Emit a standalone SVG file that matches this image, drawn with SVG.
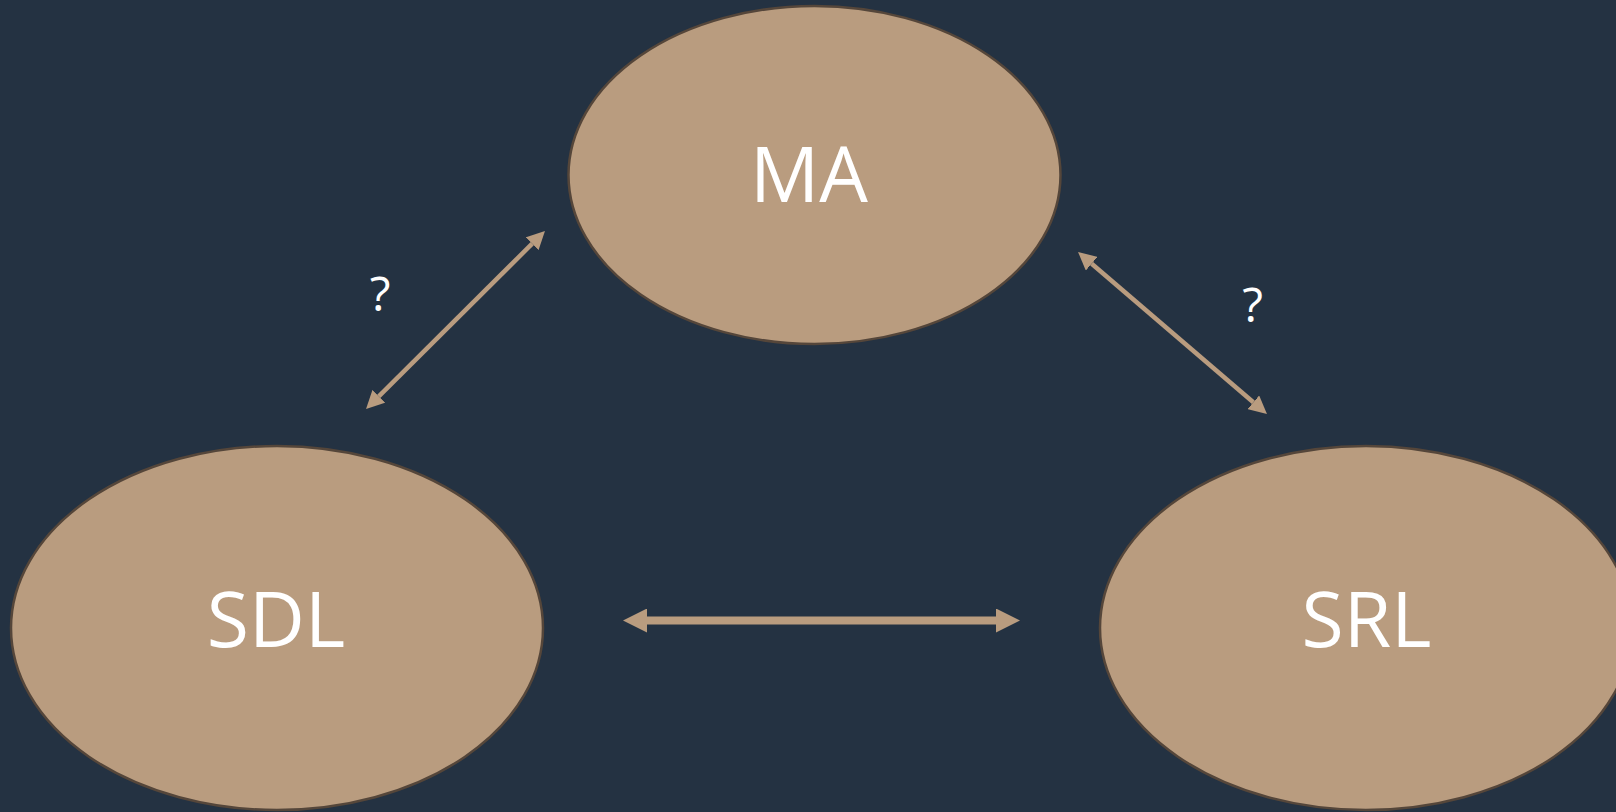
<svg xmlns="http://www.w3.org/2000/svg" width="1616" height="812" viewBox="0 0 1616 812">
<style>
.node{fill:#B99C7F;stroke:#55463a;stroke-width:2.5}
.lbl{font-family:"Open Sans","Noto Sans","Liberation Sans",sans-serif;fill:#ffffff;text-anchor:middle}
.big{font-size:77px}
.q{font-size:48px}
.conn{stroke:#B99C7F;fill:none}
</style>
<defs>
<marker id="hd" markerUnits="userSpaceOnUse" markerWidth="18" markerHeight="18" refX="0" refY="9" orient="auto-start-reverse">
<path d="M0,0 L18,9 L0,18 z" fill="#B99C7F"/>
</marker>
<marker id="hh" markerUnits="userSpaceOnUse" markerWidth="24" markerHeight="24" refX="0" refY="12" orient="auto-start-reverse">
<path d="M0,0 L24,12 L0,24 z" fill="#B99C7F"/>
</marker>
</defs>
<rect width="1616" height="812" fill="#243242"/>
<g id="connectors">
<line class="conn" x1="378.8" y1="396.3" x2="532.2" y2="243.7" stroke-width="4.5" marker-start="url(#hd)" marker-end="url(#hd)"/>
<line class="conn" x1="1091.7" y1="263.7" x2="1253.3" y2="402.3" stroke-width="4.5" marker-start="url(#hd)" marker-end="url(#hd)"/>
<line class="conn" x1="647" y1="620.5" x2="996" y2="620.5" stroke-width="8" marker-start="url(#hh)" marker-end="url(#hh)"/>
<text class="lbl q" x="380" y="311">?</text>
<text class="lbl q" x="1252.5" y="322">?</text>
</g>
<g id="node-ma">
<ellipse class="node" cx="814.5" cy="175" rx="246" ry="169"/>
<text class="lbl big" x="809" y="202">MA</text>
</g>
<g id="node-sdl">
<ellipse class="node" cx="277" cy="628" rx="266" ry="182"/>
<text class="lbl big" x="276" y="647">SDL</text>
</g>
<g id="node-srl">
<ellipse class="node" cx="1366" cy="628" rx="266" ry="182"/>
<text class="lbl big" x="1366.5" y="647">SRL</text>
</g>
</svg>
